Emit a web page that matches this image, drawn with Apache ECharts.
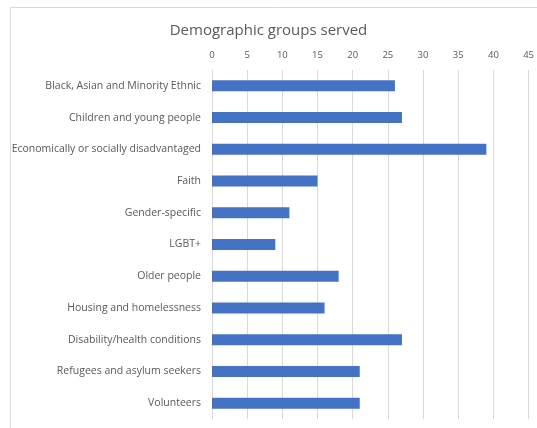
<!DOCTYPE html>
<html><head><meta charset="utf-8">
<script src="https://cdn.jsdelivr.net/npm/echarts@6/dist/echarts.min.js"></script>
<style>html,body{margin:0;padding:0;background:#fff}#c{width:537px;height:428px}</style>
</head><body><div id="c"></div>
<script>
const categories = ["Black, Asian and Minority Ethnic","Children and young people","Economically or socially disadvantaged","Faith","Gender-specific","LGBT+","Older people","Housing and homelessness","Disability/health conditions","Refugees and asylum seekers","Volunteers"];
const values = [26,27,39,15,11,9,18,16,27,21,21];
const titleText = "Demographic groups served";

const chart = echarts.init(document.getElementById('c'), null, {renderer:'canvas'});
chart.setOption({
  animation:false,
  backgroundColor:'#fff',
  graphic:[{type:'rect', shape:{x:10.5,y:7.5,width:600,height:600}, style:{fill:'none', stroke:'#d9d9d9', lineWidth:1}, silent:true}],
  title:{text:titleText, left:'center', top:18, textStyle:{fontFamily:'Open Sans', fontSize:15, fontWeight:'normal', color:'#595959'}},
  grid:{left:212, right:6, top:70, bottom:9, containLabel:false},
  xAxis:{type:'value', position:'top', min:0, max:45, interval:5,
    axisLine:{show:false}, axisTick:{show:false},
    axisLabel:{fontFamily:'Open Sans', fontSize:9.5, color:'#595959', margin:10},
    splitLine:{lineStyle:{color:'#d9d9d9', width:1}}},
  yAxis:{type:'category', data:categories, inverse:true,
    axisLine:{show:false}, axisTick:{show:false},
    axisLabel:{fontFamily:'Open Sans', fontSize:10.5, color:'#595959', margin:11}},
  series:[{type:'bar', data:values, barWidth:11, itemStyle:{color:'#4472C4'}}]
});
</script></body></html>
